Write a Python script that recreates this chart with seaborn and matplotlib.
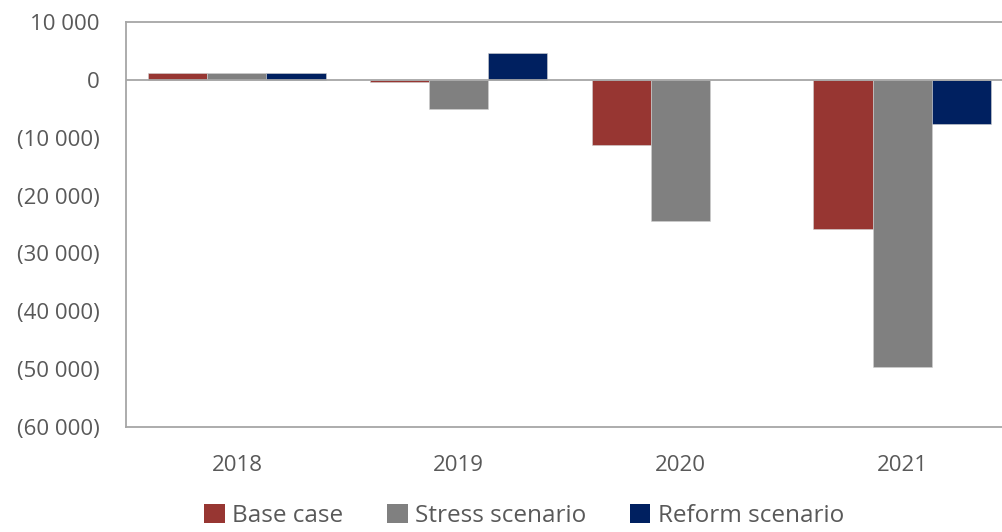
import matplotlib
matplotlib.use("Agg")
import matplotlib.pyplot as plt
import seaborn as sns
import pandas as pd
from matplotlib.patches import Patch

years = ["2018", "2019", "2020", "2021"]
series = ["Base case", "Stress scenario", "Reform scenario"]
base_case = [1100, -300, -11300, -25800]
stress_scenario = [1100, -5100, -24400, -49700]
reform_scenario = [1100, 4700, 0, -7700]
y_ticks = [10000, 0, -10000, -20000, -30000, -40000, -50000, -60000]
y_tick_labels = ["10 000", "0", "(10 000)", "(20 000)", "(30 000)", "(40 000)", "(50 000)", "(60 000)"]
colors = ["#973632", "#808080", "#002060"]

rows = []
for name, vals in zip(series, [base_case, stress_scenario, reform_scenario]):
    for y, v in zip(years, vals):
        rows.append({"year": y, "scenario": name, "value": v})
df = pd.DataFrame(rows)

sns.set_style("white")
plt.rcParams["font.family"] = ["Open Sans", "DejaVu Sans"]

fig = plt.figure(figsize=(10.02, 5.32), dpi=100)
ax = fig.add_axes([126 / 1002, 1 - 427 / 532, 1 - 126 / 1002, (427 - 22) / 532])

sns.barplot(data=df, x="year", y="value", hue="scenario", order=years,
            hue_order=series, palette=colors, saturation=1, width=0.8, ax=ax,
            edgecolor="#d0d0d0", linewidth=0.4, legend=False, errorbar=None)

ax.set_ylim(-60000, 10000)
ax.set_xlim(-0.5, 3.45)
ax.set_yticks(y_ticks)
ax.set_yticklabels(y_tick_labels)
ax.set_xlabel("")
ax.set_ylabel("")
ax.axhline(0, color="#a6a6a6", lw=1.3, zorder=3)

spine_c = "#a6a6a6"
for s in ["left", "bottom", "top"]:
    ax.spines[s].set_visible(True)
    ax.spines[s].set_color(spine_c)
    ax.spines[s].set_linewidth(1.3)
ax.spines["right"].set_visible(False)

ax.tick_params(axis="y", length=0, pad=19, labelsize=16, labelcolor="#595959")
ax.tick_params(axis="x", length=0, pad=20, labelsize=16, labelcolor="#595959")

handles = [Patch(facecolor=c, edgecolor="none") for c in colors]
fig.legend(handles, series, loc="lower center", bbox_to_anchor=(0.523, -0.033),
           ncol=3, frameon=False, fontsize=17.5, labelcolor="#595959",
           handlelength=0.85, handleheight=0.85, handletextpad=0.3, columnspacing=1.8)

fig.savefig("out.png", dpi=100)
